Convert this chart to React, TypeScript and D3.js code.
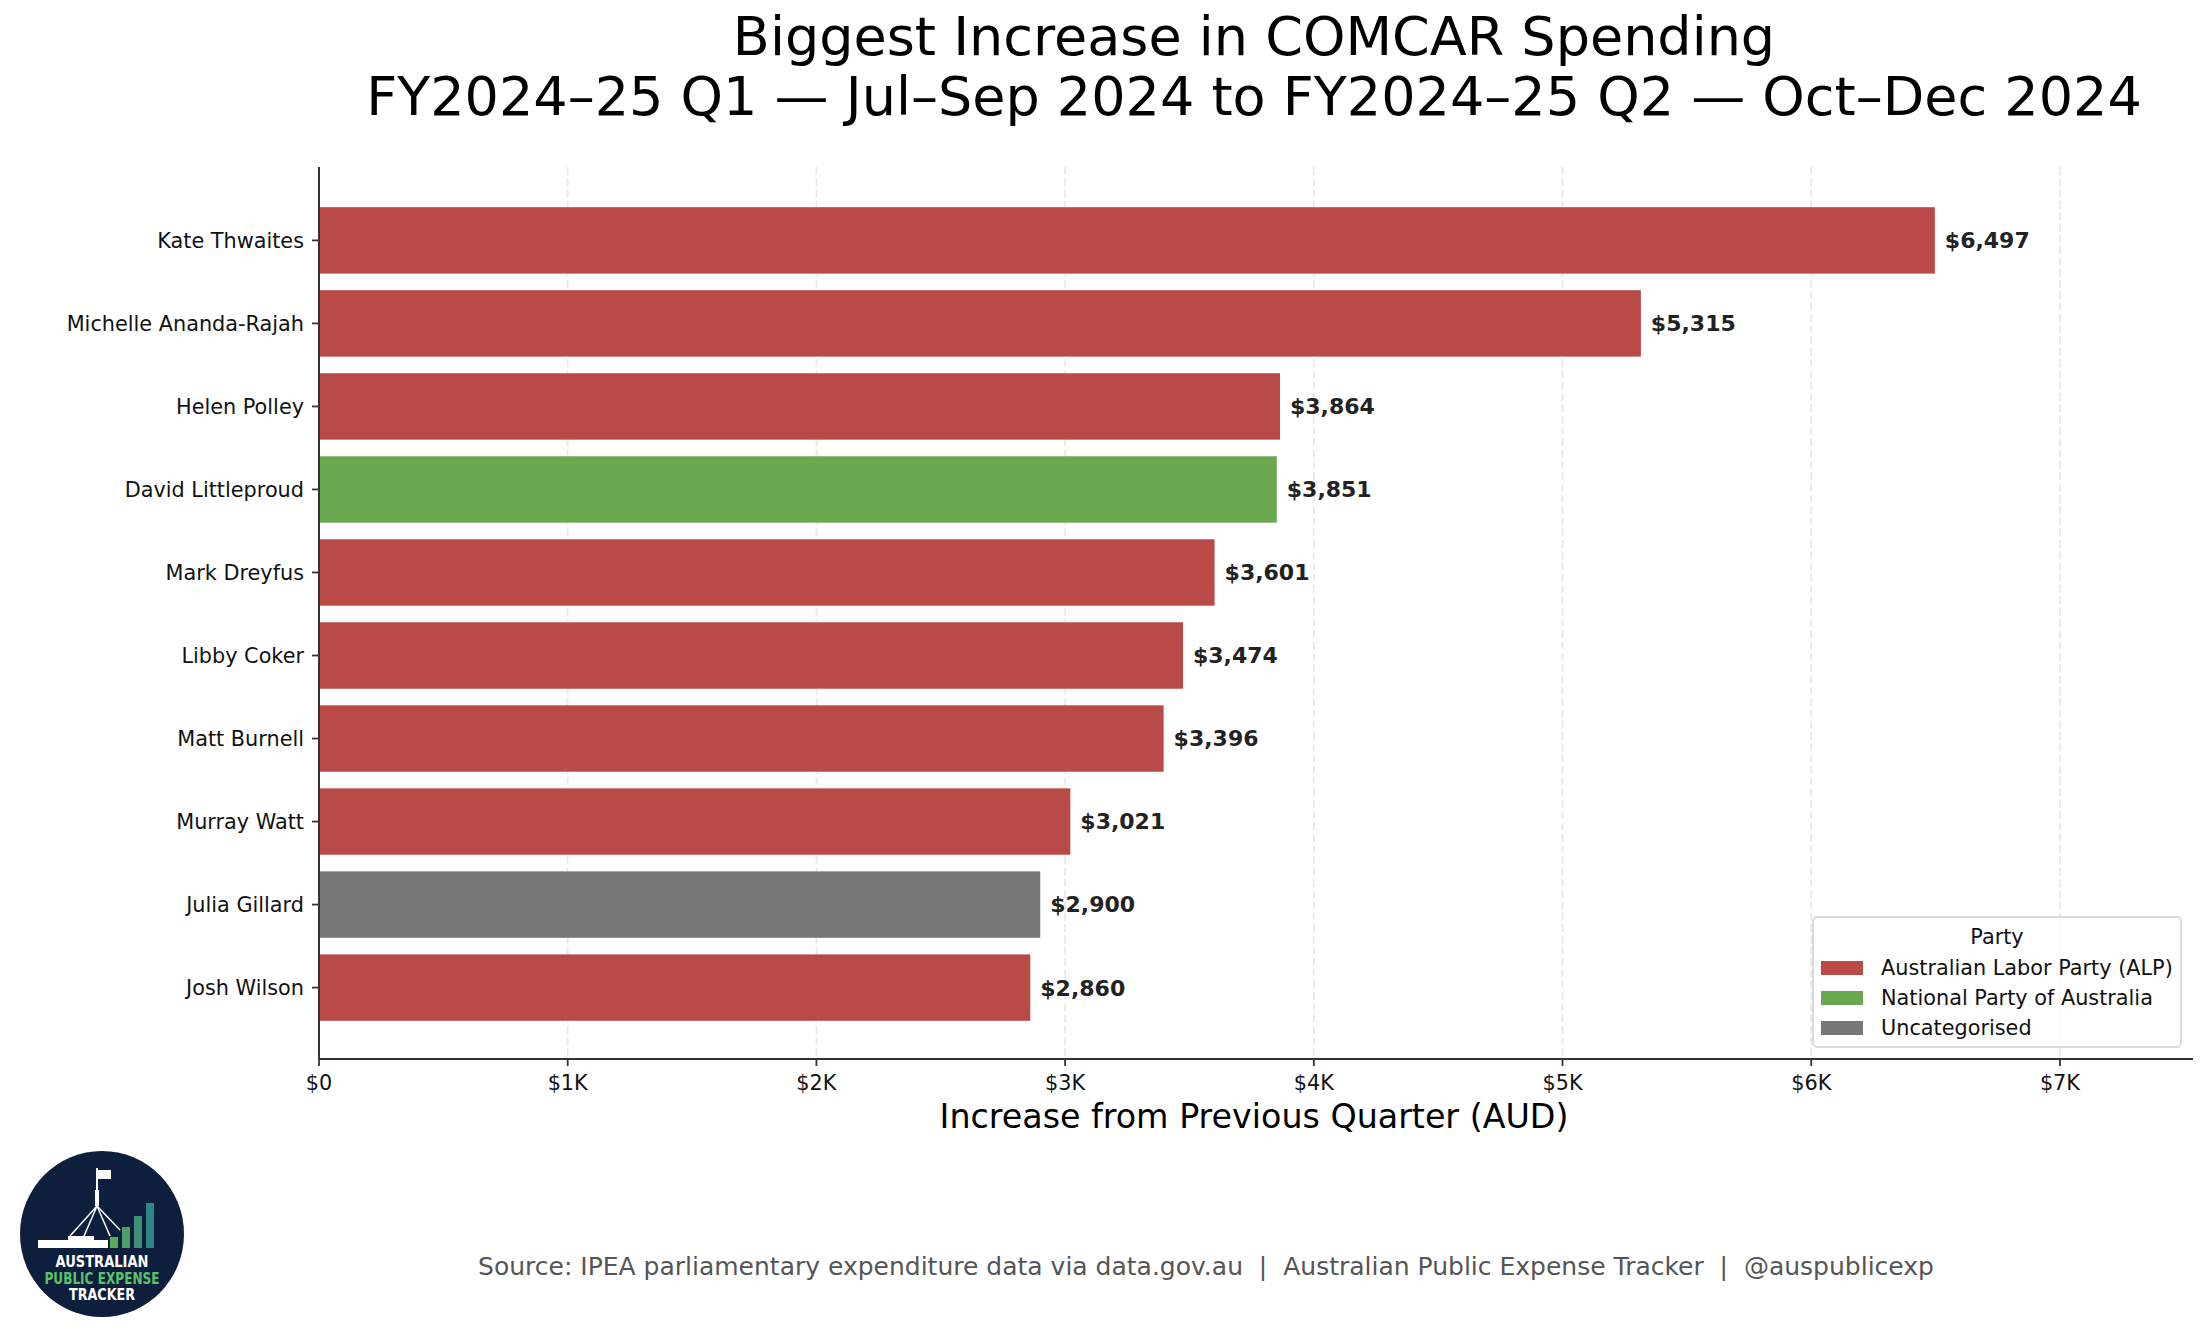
import React, {useEffect} from 'react'
import * as d3 from 'd3'

// values
const members = [
  'Kate Thwaites',
  'Michelle Ananda-Rajah',
  'Helen Polley',
  'David Littleproud',
  'Mark Dreyfus',
  'Libby Coker',
  'Matt Burnell',
  'Murray Watt',
  'Julia Gillard',
  'Josh Wilson',
]
const increases = [6497, 5315, 3864, 3851, 3601, 3474, 3396, 3021, 2900, 2860]
const memberParty = ['ALP', 'ALP', 'ALP', 'NAT', 'ALP', 'ALP', 'ALP', 'ALP', 'UNC', 'ALP']
const partyKeys = ['ALP', 'NAT', 'UNC']
const partyLabels = ['Australian Labor Party (ALP)', 'National Party of Australia', 'Uncategorised']
const partyColors = ['#b94a48', '#6aa84f', '#777777']
const xTicks = [0, 1000, 2000, 3000, 4000, 5000, 6000, 7000]

const W = 2205
const H = 1337
const M = {left: 319, right: 2193, top: 167, bottom: 1059}
const FONT = '"DejaVu Sans", sans-serif'

function App() {
  useEffect(() => {
    document.body.style.margin = '0'
  }, [])

  const x = d3.scaleLinear().domain([0, 7535]).range([M.left, M.right])
  const y = d3
    .scaleBand<string>()
    .domain(members)
    .range([M.top + 2, M.bottom])
    .paddingInner(0.2)
    .paddingOuter(0.46)
  const color = d3.scaleOrdinal<string, string>().domain(partyKeys).range(partyColors)
  const fmtTick = (d: number) => (d === 0 ? '$0' : `$${d / 1000}K`)
  const fmtVal = d3.format(',')

  return (
    <svg width={W} height={H} style={{display: 'block', fontFamily: FONT}}>
      <rect width={W} height={H} fill="#fff" />
      {/* title */}
      <text x={1254} y={55} textAnchor="middle" fontSize={54} fill="#000">
        Biggest Increase in COMCAR Spending
      </text>
      <text x={1254} y={115} textAnchor="middle" fontSize={54} fill="#000">
        FY2024–25 Q1 — Jul–Sep 2024 to FY2024–25 Q2 — Oct–Dec 2024
      </text>

      {/* grid */}
      {xTicks.map(t => (
        <line
          key={'g' + t}
          x1={x(t)}
          x2={x(t)}
          y1={M.top}
          y2={M.bottom}
          stroke="#e6e6e6"
          strokeWidth={1.6}
          strokeDasharray="8,3.3"
        />
      ))}

      {/* bars */}
      {members.map((m, i) => (
        <g key={m}>
          <rect
            x={x(0)}
            y={y(m)}
            width={x(increases[i]) - x(0)}
            height={y.bandwidth()}
            fill={color(memberParty[i])}
          />
          <text
            x={x(increases[i]) + 10}
            y={(y(m) as number) + y.bandwidth() / 2}
            dy="0.36em"
            fontSize={22}
            fontWeight="bold"
            fill="#222">
            ${fmtVal(increases[i])}
          </text>
        </g>
      ))}

      {/* y axis */}
      <line x1={M.left} x2={M.left} y1={M.top} y2={M.bottom} stroke="#333" strokeWidth={2} />
      {members.map(m => {
        const cy = (y(m) as number) + y.bandwidth() / 2
        return (
          <g key={'yt' + m}>
            <line x1={M.left - 7} x2={M.left} y1={cy} y2={cy} stroke="#333" strokeWidth={1.8} />
            <text x={M.left - 15} y={cy} dy="0.36em" textAnchor="end" fontSize={20.8} fill="#111">
              {m}
            </text>
          </g>
        )
      })}

      {/* x axis */}
      <line x1={M.left - 1} x2={M.right} y1={M.bottom} y2={M.bottom} stroke="#333" strokeWidth={2} />
      {xTicks.map(t => (
        <g key={'xt' + t}>
          <line x1={x(t)} x2={x(t)} y1={M.bottom} y2={M.bottom + 7} stroke="#333" strokeWidth={1.8} />
          <text x={x(t)} y={1090} textAnchor="middle" fontSize={20.8} fill="#111">
            {fmtTick(t)}
          </text>
        </g>
      ))}
      <text x={1254} y={1128} textAnchor="middle" fontSize={33.3} fill="#000">
        Increase from Previous Quarter (AUD)
      </text>

      {/* legend */}
      <g>
        <rect x={1813} y={917} width={368} height={130} rx={4} fill="#fff" fillOpacity={0.8} stroke="#d0d0d0" strokeWidth={1.5} />
        <text x={1997} y={944} textAnchor="middle" fontSize={20.8} fill="#111">
          Party
        </text>
        {partyKeys.map((k, i) => {
          const cy = 968 + i * 30
          return (
            <g key={'lg' + k}>
              <rect x={1821} y={cy - 7} width={42} height={14} fill={color(k)} />
              <text x={1881} y={cy} dy="0.36em" fontSize={20.8} fill="#111">
                {partyLabels[i]}
              </text>
            </g>
          )
        })}
      </g>

      {/* source */}
      <text x={1206} y={1275} textAnchor="middle" fontSize={25} fill="#555" style={{whiteSpace: 'pre'}}>
        {'Source: IPEA parliamentary expenditure data via data.gov.au  |  Australian Public Expense Tracker  |  @auspublicexp'}
      </text>

      {/* logo */}
      <g>
        <ellipse cx={102} cy={1234} rx={82} ry={83} fill="#0d1f3c" />
        <line x1={97} y1={1168} x2={97} y2={1206} stroke="#fff" strokeWidth={2} />
        <rect x={98} y={1170} width={13} height={9} fill="#fff" />
        <rect x={95} y={1190} width={4} height={16} fill="#fff" />
        <line x1={97} y1={1206} x2={70} y2={1236} stroke="#fff" strokeWidth={1.5} />
        <line x1={97} y1={1206} x2={84} y2={1236} stroke="#fff" strokeWidth={1.5} />
        <line x1={97} y1={1206} x2={110} y2={1236} stroke="#fff" strokeWidth={1.5} />
        <line x1={97} y1={1206} x2={120} y2={1230} stroke="#fff" strokeWidth={1.5} />
        <rect x={38} y={1240} width={70} height={8} fill="#fff" />
        <rect x={68} y={1236} width={26} height={5} fill="#fff" />
        <rect x={110} y={1237} width={8} height={11} fill="#5aaa5a" />
        <rect x={122} y={1227} width={8} height={21} fill="#4f9e6a" />
        <rect x={134} y={1216} width={8} height={32} fill="#3f8f78" />
        <rect x={146} y={1203} width={8} height={45} fill="#2d8585" />
        <text x={102} y={1267} textAnchor="middle" fontSize={15} fontWeight="bold" fill="#fff" textLength={93} lengthAdjust="spacingAndGlyphs">
          AUSTRALIAN
        </text>
        <text x={102} y={1284} textAnchor="middle" fontSize={15} fontWeight="bold" fill="#5cc36a" textLength={115} lengthAdjust="spacingAndGlyphs">
          PUBLIC EXPENSE
        </text>
        <text x={102} y={1300} textAnchor="middle" fontSize={15} fontWeight="bold" fill="#fff" textLength={66} lengthAdjust="spacingAndGlyphs">
          TRACKER
        </text>
      </g>
    </svg>
  )
}
export default App
